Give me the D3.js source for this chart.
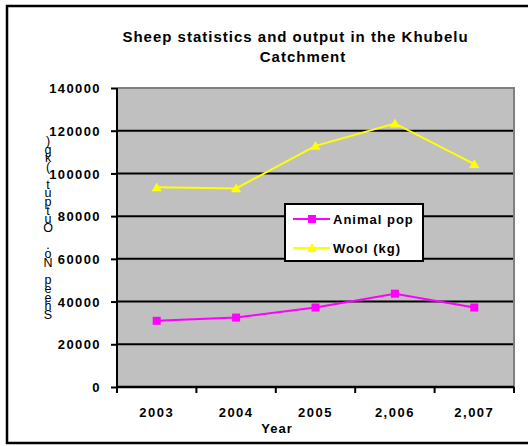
<!DOCTYPE html>
<html>
<head>
<meta charset="utf-8">
<script src="https://cdn.jsdelivr.net/npm/d3@7"></script>
<style>
  html, body { margin: 0; padding: 0; background: #fff; }
  svg { display: block; }
  text { font-family: "Liberation Sans", Arial, sans-serif; }
</style>
</head>
<body>
<svg id="chart" width="528" height="446"></svg>
<script>
const years = ["2003", "2004", "2005", "2,006", "2,007"];
const animalPop = [31000, 32500, 37200, 43700, 37200];
const wool = [93500, 93000, 112900, 123400, 104400];
const yTicks = [0, 20000, 40000, 60000, 80000, 100000, 120000, 140000];
const titleLines = ["Sheep statistics and output in the Khubelu", "Catchment"];
const yLabel = "Sheep No. Output (kg)";
const xLabel = "Year";
const seriesNames = ["Animal pop", "Wool (kg)"];

const svg = d3.select("#chart");
const plot = {left: 117, right: 514, top: 88, bottom: 387};
const FONT = "Liberation Sans, Arial, sans-serif";

// outer border
svg.append("rect").attr("x", 7).attr("y", 6).attr("width", 540).attr("height", 437)
  .attr("fill", "#fff").attr("stroke", "#000").attr("stroke-width", 2.5);

// title
svg.append("text").attr("x", 295.5).attr("y", 42).attr("text-anchor", "middle")
  .attr("font-weight", "bold").attr("font-size", 15).attr("letter-spacing", "1px").text(titleLines[0]);
svg.append("text").attr("x", 303).attr("y", 62).attr("text-anchor", "middle")
  .attr("font-weight", "bold").attr("font-size", 15).attr("letter-spacing", "1px").text(titleLines[1]);

const x = d3.scaleBand().domain(years).range([plot.left, plot.right]);
const y = d3.scaleLinear().domain([0, 140000]).range([plot.bottom, plot.top]);

// plot background
svg.append("rect").attr("x", plot.left).attr("y", plot.top)
  .attr("width", plot.right - plot.left).attr("height", plot.bottom - plot.top)
  .attr("fill", "#C0C0C0");
// gray plot border (top/right)
svg.append("path")
  .attr("d", `M${plot.left},${plot.top}H${plot.right}V${plot.bottom}`)
  .attr("fill", "none").attr("stroke", "#808080").attr("stroke-width", 2);

// gridlines
svg.append("g").selectAll("line").data(yTicks.filter(d => d > 0 && d < 140000)).join("line")
  .attr("x1", plot.left).attr("x2", plot.right - 1)
  .attr("y1", d => y(d)).attr("y2", d => y(d))
  .attr("stroke", "#000").attr("stroke-width", 2);

// y axis
const yAxis = svg.append("g").attr("transform", `translate(${plot.left},0)`)
  .call(d3.axisLeft(y).tickValues(yTicks).tickFormat(d3.format("d")).tickSize(6).tickPadding(10));
yAxis.select(".domain").attr("stroke-width", 2).attr("d", `M0,${plot.top}V${plot.bottom}`);
yAxis.selectAll(".tick line").attr("stroke-width", 2);
yAxis.selectAll(".tick text").attr("font-family", FONT)
  .attr("font-weight", "bold").attr("font-size", 13).attr("letter-spacing", "1.4px")
  .attr("fill", "#000").attr("dy", "0.36em");

// x axis
const xAxis = svg.append("g").attr("transform", `translate(0,${plot.bottom})`)
  .call(d3.axisBottom(x).tickSize(0).tickPadding(21));
xAxis.select(".domain").attr("stroke-width", 2.5).attr("d", `M${plot.left},0H${plot.right}`);
xAxis.selectAll(".tick text").attr("font-family", FONT)
  .attr("font-weight", "bold").attr("font-size", 13).attr("letter-spacing", "1.5px")
  .attr("fill", "#000");
// band boundary tick marks
const bounds = years.map(d => x(d)).concat([plot.right]);
xAxis.append("g").selectAll("line").data(bounds).join("line")
  .attr("x1", d => d).attr("x2", d => d).attr("y1", 0).attr("y2", 6)
  .attr("stroke", "#000").attr("stroke-width", 2);

// axis titles
svg.append("text").attr("x", 277).attr("y", 433).attr("text-anchor", "middle")
  .attr("font-weight", "bold").attr("font-size", 13).attr("letter-spacing", "1px").text(xLabel);

// y-axis title: upright glyphs stacked bottom-to-top, as one text element
const chars = yLabel.split("");
svg.append("text")
  .attr("x", chars.map(() => 48).join(" "))
  .attr("y", chars.map((c, i) => 319 - i * 8.7).join(" "))
  .attr("text-anchor", "middle").attr("font-size", 12.5).text(yLabel);

// series
const cx = d => x(d) + x.bandwidth() / 2;
const line = d3.line().x((d, i) => cx(years[i])).y(d => y(d));

svg.append("path").datum(wool).attr("d", line).attr("fill", "none")
  .attr("stroke", "#FFFF00").attr("stroke-width", 2);
svg.append("path").datum(animalPop).attr("d", line).attr("fill", "none")
  .attr("stroke", "#FF00FF").attr("stroke-width", 2);

const tri = d3.symbol().type(d3.symbolTriangle).size(45);
svg.append("g").selectAll("path").data(wool).join("path")
  .attr("transform", (d, i) => `translate(${cx(years[i])},${y(d) + 1})`)
  .attr("d", tri).attr("fill", "#FFFF00");
svg.append("g").selectAll("rect").data(animalPop).join("rect")
  .attr("x", (d, i) => cx(years[i]) - 4).attr("y", d => y(d) - 4)
  .attr("width", 8).attr("height", 8).attr("fill", "#FF00FF");

// legend
const lg = svg.append("g");
lg.append("rect").attr("x", 285).attr("y", 204).attr("width", 138).attr("height", 57)
  .attr("fill", "#fff").attr("stroke", "#000").attr("stroke-width", 2);
const colors = ["#FF00FF", "#FFFF00"];
const ly = [219, 248];
seriesNames.forEach((name, i) => {
  lg.append("line").attr("x1", 293).attr("x2", 330).attr("y1", ly[i]).attr("y2", ly[i])
    .attr("stroke", colors[i]).attr("stroke-width", 2);
  if (i === 0) {
    lg.append("rect").attr("x", 308).attr("y", ly[i] - 4).attr("width", 8).attr("height", 8)
      .attr("fill", colors[i]);
  } else {
    lg.append("path").attr("transform", `translate(312,${ly[i] + 1})`).attr("d", tri)
      .attr("fill", colors[i]);
  }
  lg.append("text").attr("x", 333).attr("y", ly[i]).attr("dy", "0.36em")
    .attr("font-weight", "bold").attr("font-size", 13).attr("letter-spacing", "1px").text(name);
});
</script>
</body>
</html>
